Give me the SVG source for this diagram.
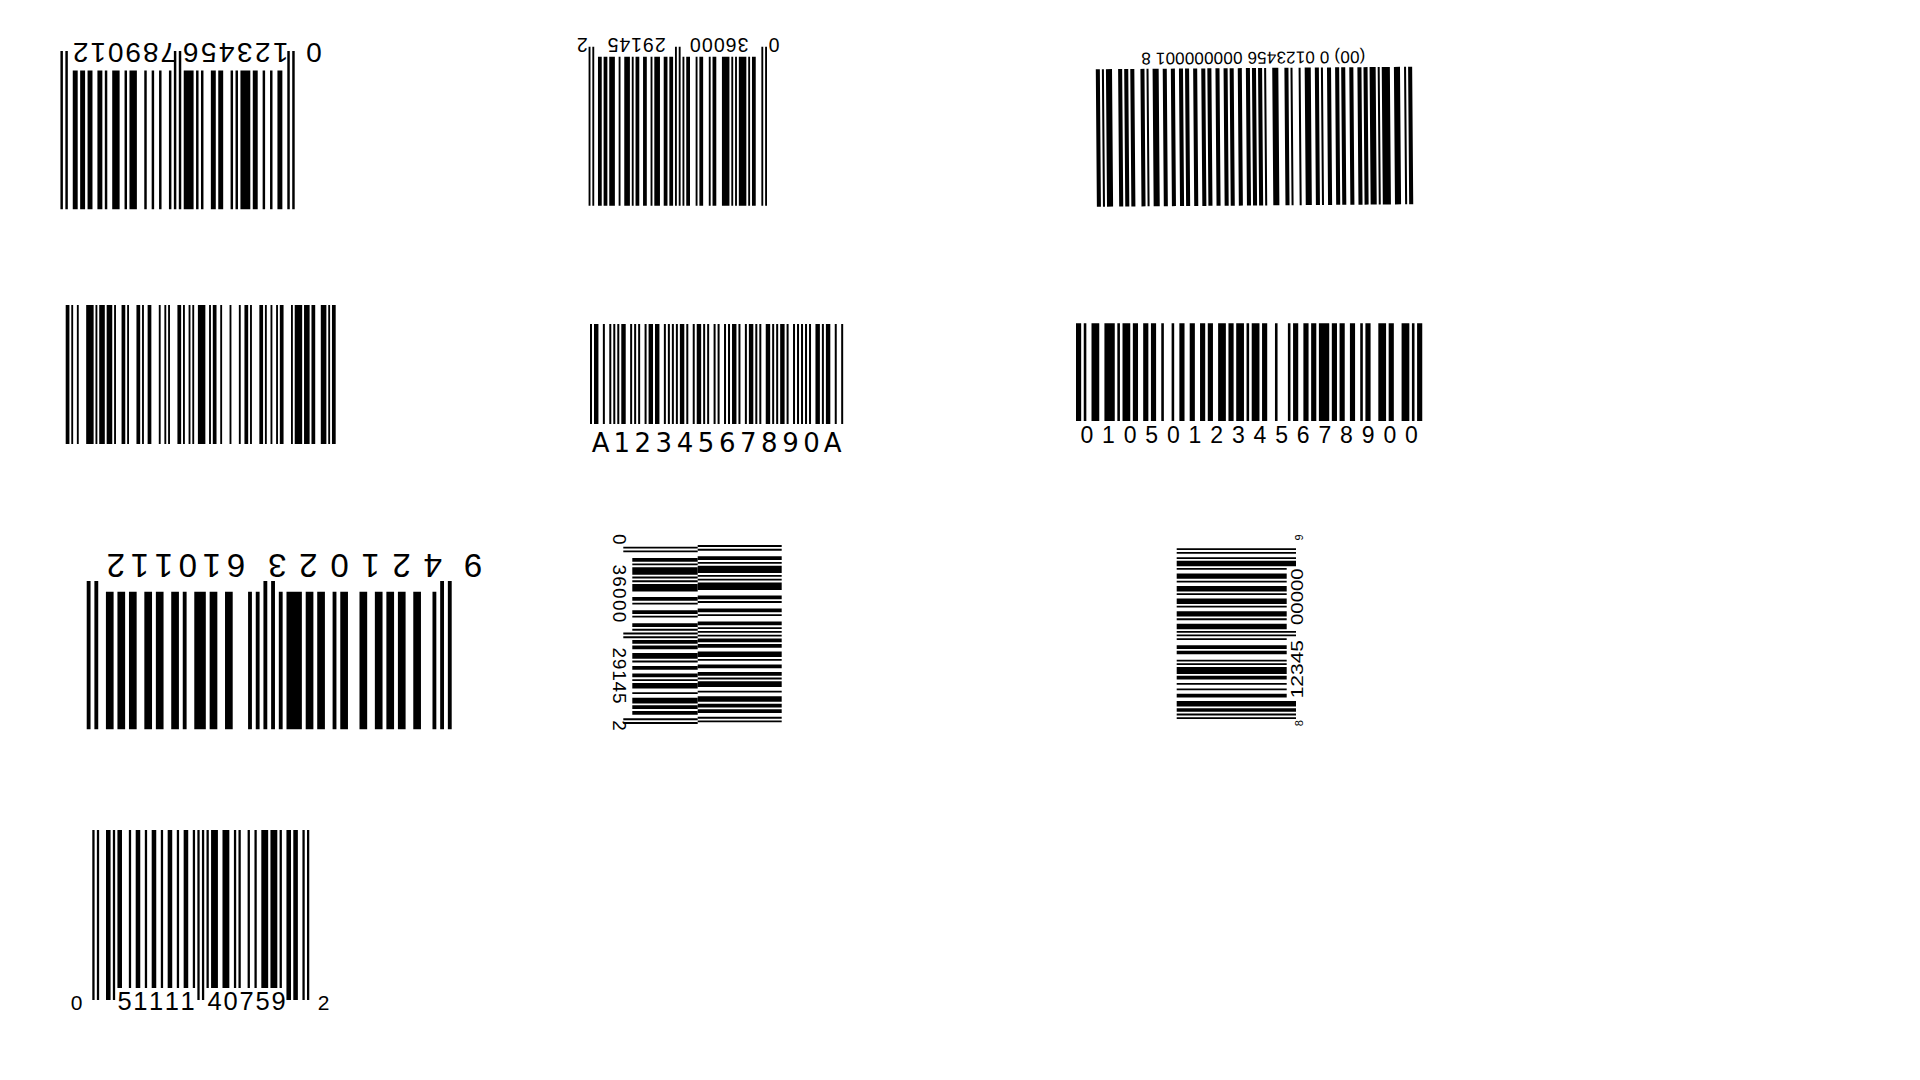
<svg xmlns="http://www.w3.org/2000/svg" width="1920" height="1080" viewBox="0 0 1920 1080">
<style>
text{font-family:"Liberation Sans",Arial,sans-serif;fill:#000}
.dv{font-family:"DejaVu Sans","Liberation Sans",sans-serif}
path,use{fill:#000}
.m{text-anchor:middle}
</style>
<defs>
<path id="gE" d="M0,0h1v1h-1z M2,0h1v1h-1z M46,0h1v1h-1z M48,0h1v1h-1z M92,0h1v1h-1z M94,0h1v1h-1z"/>
<path id="b1d" d="M5,0h2v1h-2z M9,0h1v1h-1z M12,0h1v1h-1z M15,0h2v1h-2z M18,0h4v1h-4z M23,0h1v1h-1z M25,0h1v1h-1z M29,0h2v1h-2z M32,0h2v1h-2z M37,0h1v1h-1z M39,0h1v1h-1z M41,0h4v1h-4z M50,0h1v1h-1z M54,0h1v1h-1z M57,0h1v1h-1z M60,0h1v1h-1z M64,0h3v1h-3z M68,0h1v1h-1z M71,0h3v1h-3z M76,0h1v1h-1z M78,0h2v1h-2z M82,0h2v1h-2z M85,0h2v1h-2z M88,0h2v1h-2z"/>
<path id="b2d" d="M6,0h2v1h-2z M9,0h1v1h-1z M11,0h4v1h-4z M16,0h1v1h-1z M18,0h1v1h-1z M20,0h4v1h-4z M27,0h2v1h-2z M30,0h1v1h-1z M34,0h2v1h-2z M37,0h1v1h-1z M41,0h2v1h-2z M44,0h1v1h-1z M50,0h2v1h-2z M53,0h2v1h-2z M57,0h3v1h-3z M61,0h1v1h-1z M64,0h2v1h-2z M68,0h2v1h-2z M71,0h1v1h-1z M73,0h3v1h-3z M78,0h1v1h-1z M81,0h3v1h-3z M85,0h2v1h-2z M88,0h2v1h-2z"/>
<path id="b7d" d="M4,0h1v1h-1z M8,0h2v1h-2z M12,0h2v1h-2z M15,0h2v1h-2z M18,0h2v1h-2z M22,0h2v1h-2z M27,0h2v1h-2z M30,0h1v1h-1z M33,0h2v1h-2z M36,0h2v1h-2z M39,0h4v1h-4z M44,0h1v1h-1z M50,0h1v1h-1z M52,0h1v1h-1z M57,0h2v1h-2z M61,0h2v1h-2z M64,0h3v1h-3z M69,0h1v1h-1z M71,0h2v1h-2z M75,0h2v1h-2z M78,0h2v1h-2z M82,0h2v1h-2z M85,0h2v1h-2z M88,0h2v1h-2z"/>
<path id="b10s" d="M11,0h2v1h-2z M16,0h1v1h-1z M19,0h2v1h-2z M23,0h1v1h-1z M26,0h2v1h-2z M30,0h1v1h-1z M33,0h2v1h-2z M37,0h1v1h-1z M40,0h2v1h-2z M44,0h1v1h-1z M50,0h1v1h-1z M52,0h3v1h-3z M57,0h3v1h-3z M62,0h1v1h-1z M64,0h1v1h-1z M68,0h1v1h-1z M71,0h1v1h-1z M74,0h3v1h-3z M78,0h3v1h-3z M82,0h1v1h-1z"/>
<path id="b10l" d="M0,0h1v1h-1z M2,0h1v1h-1z M6,0h2v1h-2z M9,0h1v1h-1z M46,0h1v1h-1z M48,0h1v1h-1z M85,0h2v1h-2z M88,0h2v1h-2z M92,0h1v1h-1z M94,0h1v1h-1z"/>
<path id="b9s" d="M12,0h2v1h-2z M16,0h1v1h-1z M19,0h1v1h-1z M22,0h2v1h-2z M25,0h4v1h-4z M30,0h1v1h-1z M32,0h1v1h-1z M36,0h2v1h-2z M39,0h2v1h-2z M44,0h1v1h-1z M50,0h3v1h-3z M55,0h1v1h-1z M57,0h3v1h-3z M62,0h1v1h-1z M64,0h3v1h-3z M69,0h1v1h-1z M71,0h3v1h-3z M76,0h1v1h-1z M78,0h3v1h-3z M83,0h1v1h-1z"/>
<path id="b9l" d="M0,0h1v1h-1z M2,0h1v1h-1z M4,0h2v1h-2z M7,0h3v1h-3z M46,0h1v1h-1z M48,0h1v1h-1z M85,0h3v1h-3z M89,0h1v1h-1z M92,0h1v1h-1z M94,0h1v1h-1z"/>
<path id="b3p" d="M0,0h2v1h-2z M3,0h1v1h-1z M6,0h3v1h-3z M11,0h4v1h-4z M16,0h1v1h-1z M18,0h3v1h-3z M22,0h2v1h-2z M25,0h2v1h-2z M29,0h2v1h-2z M33,0h2v1h-2z M36,0h2v1h-2z M40,0h2v1h-2z M44,0h1v1h-1z M46,0h2v1h-2z M50,0h3v1h-3z M55,0h1v1h-1z M59,0h1v1h-1z M61,0h2v1h-2z M66,0h3v1h-3z M72,0h1v1h-1z M74,0h2v1h-2z M77,0h2v1h-2z M80,0h2v1h-2z M84,0h2v1h-2z M88,0h2v1h-2z M91,0h2v1h-2z M95,0h2v1h-2z M99,0h2v1h-2z M102,0h2v1h-2z M106,0h2v1h-2z M110,0h2v1h-2z M113,0h2v1h-2z M117,0h2v1h-2z M121,0h2v1h-2z M125,0h3v1h-3z M130,0h1v1h-1z M132,0h2v1h-2z M137,0h2v1h-2z M140,0h2v1h-2z M143,0h2v1h-2z M148,0h3v1h-3z M152,0h1v1h-1z M154,0h2v1h-2z"/>
<path id="b4p" d="M0,0h2v1h-2z M3,0h1v1h-1z M6,0h1v1h-1z M11,0h4v1h-4z M16,0h1v1h-1z M18,0h3v1h-3z M22,0h3v1h-3z M26,0h1v1h-1z M30,0h2v1h-2z M33,0h1v1h-1z M38,0h2v1h-2z M41,0h1v1h-1z M44,0h2v1h-2z M50,0h1v1h-1z M53,0h1v1h-1z M55,0h1v1h-1z M60,0h2v1h-2z M63,0h1v1h-1z M66,0h1v1h-1z M68,0h1v1h-1z M71,0h4v1h-4z M77,0h1v1h-1z M79,0h2v1h-2z M83,0h1v1h-1z M88,0h1v1h-1z M93,0h1v1h-1z M96,0h2v1h-2z M99,0h1v1h-1z M104,0h2v1h-2z M107,0h1v1h-1z M110,0h1v1h-1z M113,0h1v1h-1z M115,0h2v1h-2z M121,0h1v1h-1z M123,0h4v1h-4z M128,0h3v1h-3z M132,0h2v1h-2z M137,0h3v1h-3z M141,0h1v1h-1z M143,0h2v1h-2z"/>
<path id="b6p" d="M0,0h2v1h-2z M3,0h1v1h-1z M6,0h3v1h-3z M11,0h4v1h-4z M16,0h1v1h-1z M18,0h3v1h-3z M22,0h2v1h-2z M26,0h2v1h-2z M29,0h2v1h-2z M33,0h1v1h-1z M37,0h1v1h-1z M40,0h2v1h-2z M44,0h2v1h-2z M48,0h2v1h-2z M51,0h2v1h-2z M55,0h3v1h-3z M59,0h2v1h-2z M62,0h3v1h-3z M66,0h1v1h-1z M68,0h3v1h-3z M72,0h2v1h-2z M77,0h1v1h-1z M82,0h1v1h-1z M84,0h2v1h-2z M88,0h2v1h-2z M91,0h2v1h-2z M94,0h4v1h-4z M99,0h2v1h-2z M102,0h2v1h-2z M106,0h2v1h-2z M110,0h1v1h-1z M112,0h2v1h-2z M117,0h3v1h-3z M121,0h2v1h-2z M126,0h3v1h-3z M130,0h1v1h-1z M132,0h2v1h-2z"/>
<path id="b5p" d="M0,0h2v1h-2z M4,0h4.43v1h-4.43z M12.86,0h2v1h-2z M19.29,0h2v1h-2z M23.29,0h2v1h-2z M27.29,0h2v1h-2z M31.29,0h4.43v1h-4.43z M40.15,0h2v1h-2z M44.15,0h2v1h-2z M48.15,0h2v1h-2z M54.58,0h2v1h-2z M58.58,0h4.43v1h-4.43z M65.01,0h4.43v1h-4.43z M73.87,0h2v1h-2z M77.87,0h2v1h-2z M81.87,0h2v1h-2z M85.87,0h2v1h-2z M89.87,0h4.43v1h-4.43z M96.3,0h2v1h-2z M102.73,0h2v1h-2z M106.73,0h4.43v1h-4.43z M113.16,0h2v1h-2z M117.16,0h2v1h-2z M123.59,0h2v1h-2z M127.59,0h2v1h-2z M134.02,0h2v1h-2z M138.02,0h2v1h-2z M142.02,0h4.43v1h-4.43z M148.45,0h2v1h-2z M154.88,0h2v1h-2z M158.88,0h4.43v1h-4.43z M165.31,0h2v1h-2z M169.31,0h2v1h-2z M175.74,0h4.43v1h-4.43z M182.17,0h2v1h-2z M186.17,0h2v1h-2z M190.17,0h4.43v1h-4.43z M196.6,0h2v1h-2z M203.03,0h2v1h-2z M207.03,0h2v1h-2z M211.03,0h2v1h-2z M215.03,0h2v1h-2z M219.03,0h2v1h-2z M225.46,0h4.43v1h-4.43z M231.89,0h2v1h-2z M235.89,0h4.43v1h-4.43z M244.75,0h2v1h-2z M251.18,0h2v1h-2z"/>
</defs>
<rect width="1920" height="1080" fill="#fff"/>

<g id="barcode-ean13-0123456789012" transform="translate(294.7 209.3) rotate(180)">
<use href="#b1d" transform="scale(2.466 138.8)"/>
<use href="#gE" transform="scale(2.466 158.3)"/>
<text class="m" font-size="28" x="-19.3" y="166.8">0</text>
<text class="m" font-size="28" x="14 32 50 68 86 104" y="166.8">123456</text>
<text class="m" font-size="28" x="126.5 144 161.5 179 196.5 214" y="166.8">789012</text>
</g>

<g id="barcode-upca-036000291452-top" transform="translate(767 205.7) rotate(180)">
<use href="#b2d" transform="scale(1.878 149)"/>
<use href="#gE" transform="scale(1.878 159)"/>
<text class="m" font-size="19.5" x="-7" y="167.7">0</text>
<text class="m" font-size="19.5" x="24 35.9 47.8 59.7 71.6" y="167.7">36000</text>
<text class="m" font-size="19.5" x="106.8 118.6 130.4 142.2 154" y="167.7">29145</text>
<text class="m" font-size="19.5" x="184.8" y="167.7">2</text>
</g>

<g id="barcode-gs1-128-sscc" transform="rotate(-0.45 1254.5 137) translate(1412.7 205.5) rotate(180)">
<use href="#b3p" transform="scale(2.028 137.5)"/>
<text class="m" font-size="17" x="158.8" y="153.5" textLength="224" lengthAdjust="spacing">(00) 0 0123456 000000001 8</text>
</g>

<g id="barcode-code128-plain" transform="translate(65.7 305)">
<use href="#b4p" transform="scale(1.862 139)"/>
</g>

<g id="barcode-codabar" transform="translate(590 324)">
<use href="#b5p" transform="scale(1 100)"/>
<text class="dv m" font-size="26" x="10.55 31.65 52.75 73.85 94.95 116.05 137.15 158.25 179.35 200.45 221.55 242.65" y="128">A1234567890A</text>
</g>

<g id="barcode-gs1-128-gtin" transform="translate(1076 323.3)">
<use href="#b6p" transform="scale(2.584 97.7)"/>
<text class="m" font-size="23" x="10.8 32.5 54.1 75.7 97.4 119 140.7 162.3 184 205.6 227.2 248.9 270.5 292.2 313.8 335.4" y="120.2">0105012345678900</text>
</g>

<g id="barcode-ean13-9421023610112" transform="translate(451.7 729.3) rotate(180)">
<use href="#b7d" transform="scale(3.842 137.6)"/>
<use href="#gE" transform="scale(3.842 148.3)"/>
<text class="m" font-size="33" x="-21.3" y="175.3">9</text>
<text class="m" font-size="33" x="19 50.1 81.2 112.2 143.3 174.4" y="175.3">421023</text>
<text class="m" font-size="33" x="215.7 239.8 263.8 287.9 311.9 336" y="175.3">610112</text>
</g>

<g id="barcode-upca-036000291452-rotated" transform="translate(781.7 546.7) rotate(90)">
<use href="#b2d" transform="translate(-1.6 0) scale(1.866 84)"/>
<use href="#gE" transform="translate(-1.6 0) scale(1.866 84)"/>
<use href="#b2d" transform="translate(0 84) scale(1.866 65.4)"/>
<use href="#gE" transform="translate(0 84) scale(1.866 74.4)"/>
<text class="m" font-size="19" x="-7.5" y="168.7">0</text>
<text class="m" font-size="19" x="23 34.8 46.7 58.5 70.3" y="168.7">36000</text>
<text class="m" font-size="19" x="106 117.4 128.8 140.2 151.6" y="168.7">29145</text>
<text class="m" font-size="19" x="178.8" y="168.7">2</text>
</g>

<g id="barcode-upca-812345000009" transform="translate(1176.7 719) rotate(-90)">
<use href="#b9s" transform="scale(1.797 110)"/>
<use href="#b9l" transform="scale(1.797 119.3)"/>
<text class="m" font-size="11" x="-4.3" y="126.6">8</text>
<text font-size="16.5" x="20.7" y="126.8" textLength="58.3" lengthAdjust="spacingAndGlyphs">12345</text>
<text font-size="16.5" x="94" y="126.8" textLength="56.7" lengthAdjust="spacingAndGlyphs">00000</text>
<text class="m" font-size="11" x="181.6" y="126.6">9</text>
</g>

<g id="barcode-upca-051111407592">
<use href="#b10s" transform="translate(92.3 830) scale(2.284 158)"/>
<use href="#b10l" transform="translate(92.3 830) scale(2.284 170)"/>
<text class="m" font-size="21" x="76.5" y="1010">0</text>
<text class="m" font-size="25.5" x="124.5 140.3 156.1 171.9 187.7" y="1010">51111</text>
<text class="m" font-size="25.5" x="214.5 230.5 246.5 262.5 278.5" y="1010">40759</text>
<text class="m" font-size="21" x="323.5" y="1010">2</text>
</g>
</svg>
